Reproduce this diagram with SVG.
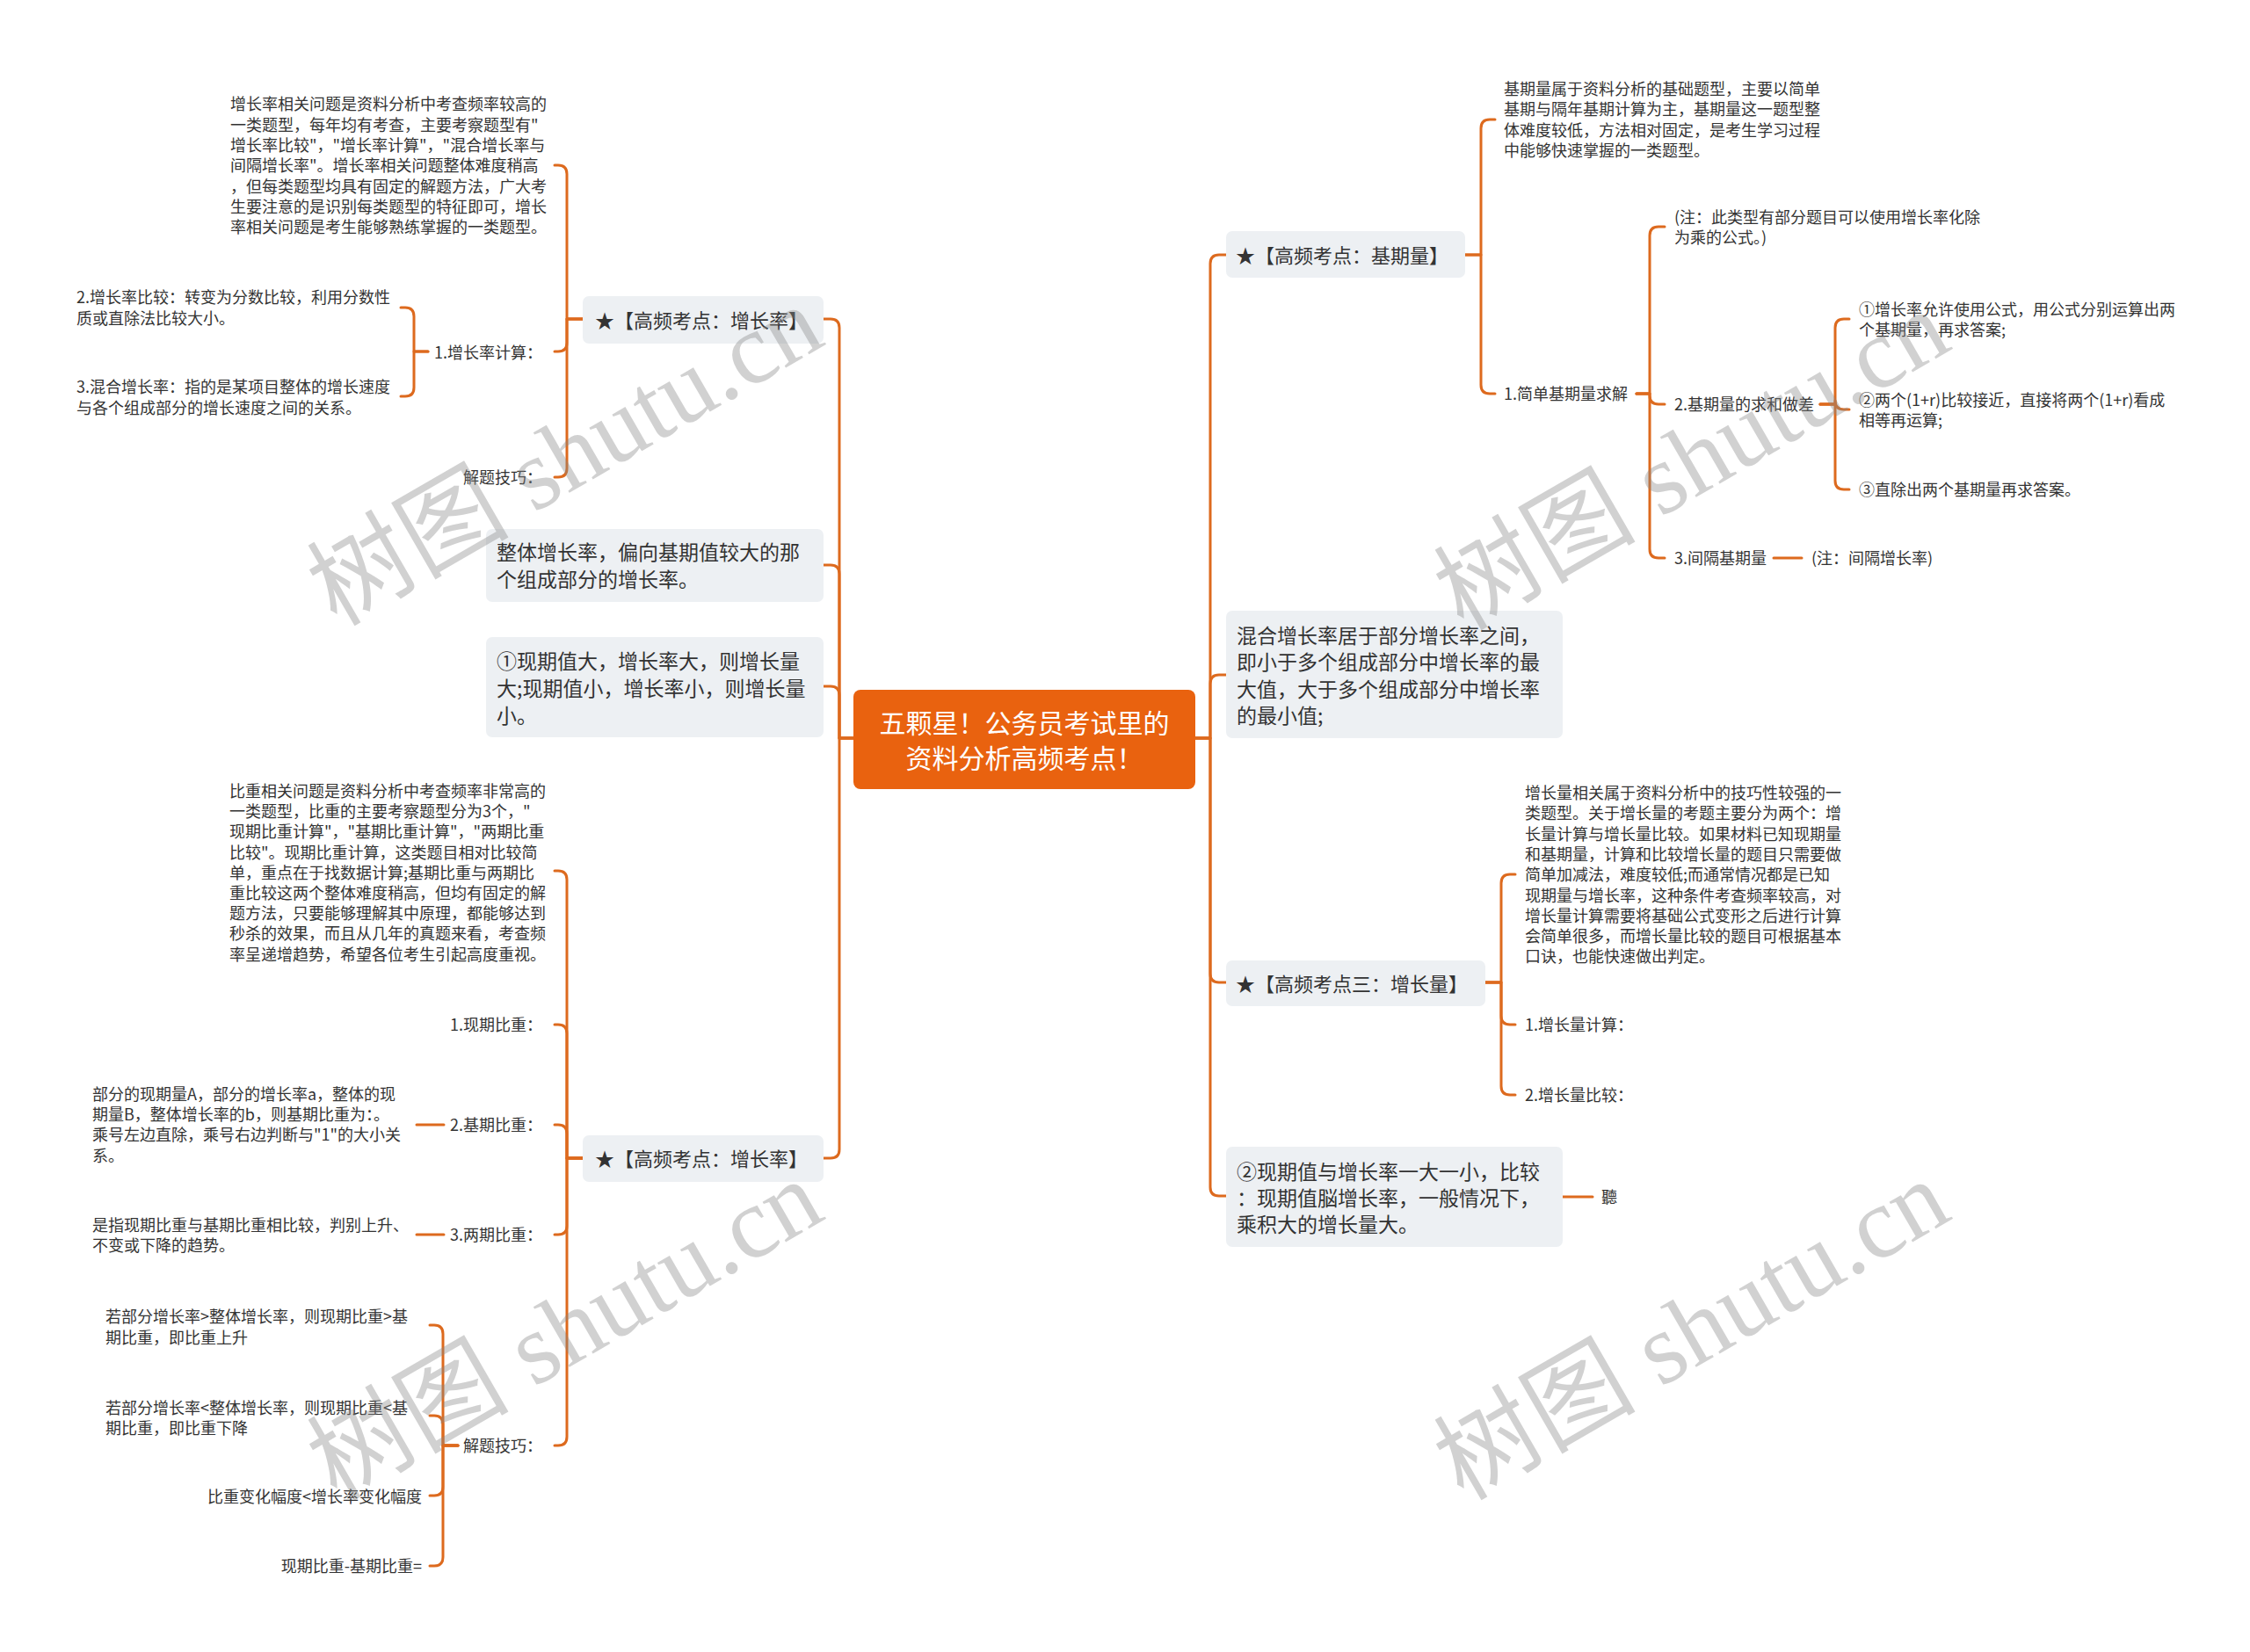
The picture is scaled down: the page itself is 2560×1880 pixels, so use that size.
<svg xmlns="http://www.w3.org/2000/svg" width="2560" height="1880" viewBox="0 0 2560 1880">
<style>
.c{fill:none;stroke:#DD6A1E;stroke-width:3;stroke-linecap:round;stroke-linejoin:round}
text{font-family:"Noto Sans CJK SC","Noto Sans",sans-serif;fill:#333;dominant-baseline:central}
.s{font-size:18px}
.m{font-size:23px}
.t{font-size:22px}
.box{fill:#EDF0F3}
.root{fill:#E9620F}
.rt{font-size:30px;fill:#fff;text-anchor:middle}
.e{text-anchor:end}
.wm{font-family:"Liberation Serif","Noto Sans CJK SC",serif;font-size:115px;fill:#888;opacity:0.38;text-anchor:middle}
</style>
<rect width="2560" height="1880" fill="#fff"/>
<g id="connectors">
<path class="c" d="M971,840 H955 V373 Q955,363 945,363 H937"/>
<path class="c" d="M971,840 H955 V653 Q955,643 945,643 H937"/>
<path class="c" d="M971,840 H955 V791 Q955,781 945,781 H937"/>
<path class="c" d="M971,840 H955 V1308 Q955,1318 945,1318 H937"/>
<path class="c" d="M1360,840 H1377 V300 Q1377,290 1387,290 H1395"/>
<path class="c" d="M1360,840 H1377 V778 Q1377,768 1387,768 H1395"/>
<path class="c" d="M1360,840 H1377 V1108 Q1377,1118 1387,1118 H1395"/>
<path class="c" d="M1360,840 H1377 V1351 Q1377,1361 1387,1361 H1395"/>
<path class="c" d="M663,363 H645 V198 Q645,188 635,188 H631"/>
<path class="c" d="M663,363 H645 V390 Q645,400 635,400 H631"/>
<path class="c" d="M663,363 H645 V533 Q645,543 635,543 H631"/>
<path class="c" d="M487,400 H471 V360 Q471,350 461,350 H456"/>
<path class="c" d="M487,400 H471 V441 Q471,451 461,451 H456"/>
<path class="c" d="M663,1318 H645 V1001 Q645,991 635,991 H631"/>
<path class="c" d="M663,1318 H645 V1176 Q645,1166 635,1166 H631"/>
<path class="c" d="M663,1318 H645 V1290 Q645,1280 635,1280 H631"/>
<path class="c" d="M663,1318 H645 V1395 Q645,1405 635,1405 H631"/>
<path class="c" d="M663,1318 H645 V1635 Q645,1645 635,1645 H631"/>
<path class="c" d="M505,1280 H474"/>
<path class="c" d="M505,1405 H474"/>
<path class="c" d="M521,1645 H504 V1518 Q504,1508 494,1508 H489"/>
<path class="c" d="M521,1645 H504 V1621 Q504,1611 494,1611 H489"/>
<path class="c" d="M521,1645 H504 V1692 Q504,1702 494,1702 H489"/>
<path class="c" d="M521,1645 H504 V1772 Q504,1782 494,1782 H489"/>
<path class="c" d="M1667,290 H1685 V146 Q1685,136 1695,136 H1701"/>
<path class="c" d="M1667,290 H1685 V438 Q1685,448 1695,448 H1701"/>
<path class="c" d="M1862,448 H1877 V268 Q1877,258 1887,258 H1894"/>
<path class="c" d="M1862,448 H1877 V450 Q1877,460 1887,460 H1894"/>
<path class="c" d="M1862,448 H1877 V625 Q1877,635 1887,635 H1894"/>
<path class="c" d="M2018,635 H2050"/>
<path class="c" d="M2071,460 H2088 V373 Q2088,363 2098,363 H2104"/>
<path class="c" d="M2071,460 H2088 V456 Q2088,466 2098,466 H2104"/>
<path class="c" d="M2071,460 H2088 V547 Q2088,557 2098,557 H2104"/>
<path class="c" d="M1690,1118 H1708 V1005 Q1708,995 1718,995 H1724"/>
<path class="c" d="M1690,1118 H1708 V1156 Q1708,1166 1718,1166 H1724"/>
<path class="c" d="M1690,1118 H1708 V1236 Q1708,1246 1718,1246 H1724"/>
<path class="c" d="M1778,1362 H1812"/>
</g>
<g id="root">
<rect class="root" x="971" y="785" width="389" height="113" rx="8"/>
<text class="rt" x="1165.5" y="821">五颗星！公务员考试里的</text>
<text class="rt" x="1165.5" y="861">资料分析高频考点！</text>
</g>
<g id="n-zzl1">
<rect class="box" x="663" y="337" width="274" height="54" rx="7"/>
<text class="t" x="677" y="363">★【高频考点：增长率】</text>
</g>
<g id="n-zzl1-desc">
<text class="s" x="262"><tspan x="262" y="117.3">增长率相关问题是资料分析中考查频率较高的</tspan><tspan x="262" y="140.6">一类题型，每年均有考查，主要考察题型有"</tspan><tspan x="262" y="163.9">增长率比较"，"增长率计算"，"混合增长率与</tspan><tspan x="262" y="187.2">间隔增长率"。增长率相关问题整体难度稍高</tspan><tspan x="262" y="210.5">，但每类题型均具有固定的解题方法，广大考</tspan><tspan x="262" y="233.8">生要注意的是识别每类题型的特征即可，增长</tspan><tspan x="262" y="257.1">率相关问题是考生能够熟练掌握的一类题型。</tspan></text>
</g>
<g id="n-zzl1-calc"><text class="s e" x="617" y="400">1.增长率计算：</text></g>
<g id="n-zzl1-cmp"><text class="s" x="87"><tspan x="87" y="337">2.增长率比较：转变为分数比较，利用分数性</tspan><tspan x="87" y="360.5">质或直除法比较大小。</tspan></text></g>
<g id="n-zzl1-mix"><text class="s" x="87"><tspan x="87" y="439">3.混合增长率：指的是某项目整体的增长速度</tspan><tspan x="87" y="462.5">与各个组成部分的增长速度之间的关系。</tspan></text></g>
<g id="n-zzl1-tip"><text class="s e" x="617" y="542">解题技巧：</text></g>
<g id="n-whole">
<rect class="box" x="553" y="602" width="384" height="83" rx="7"/>
<text class="m" x="565"><tspan x="565" y="627">整体增长率，偏向基期值较大的那</tspan><tspan x="565" y="657.5">个组成部分的增长率。</tspan></text>
</g>
<g id="n-cur1">
<rect class="box" x="553" y="725" width="384" height="114" rx="7"/>
<text class="m" x="565"><tspan x="565" y="750.5">①现期值大，增长率大，则增长量</tspan><tspan x="565" y="781.5">大;现期值小，增长率小，则增长量</tspan><tspan x="565" y="812.5">小。</tspan></text>
</g>
<g id="n-zzl2">
<rect class="box" x="663" y="1292" width="274" height="53" rx="7"/>
<text class="t" x="677" y="1317">★【高频考点：增长率】</text>
</g>
<g id="n-zzl2-desc">
<text class="s" x="261"><tspan x="261" y="899">比重相关问题是资料分析中考查频率非常高的</tspan><tspan x="261" y="922.2">一类题型，比重的主要考察题型分为3个，"</tspan><tspan x="261" y="945.4">现期比重计算"，"基期比重计算"，"两期比重</tspan><tspan x="261" y="968.6">比较"。现期比重计算，这类题目相对比较简</tspan><tspan x="261" y="991.8">单，重点在于找数据计算;基期比重与两期比</tspan><tspan x="261" y="1015">重比较这两个整体难度稍高，但均有固定的解</tspan><tspan x="261" y="1038.2">题方法，只要能够理解其中原理，都能够达到</tspan><tspan x="261" y="1061.4">秒杀的效果，而且从几年的真题来看，考查频</tspan><tspan x="261" y="1084.6">率呈递增趋势，希望各位考生引起高度重视。</tspan></text>
</g>
<g id="n-cur-share"><text class="s e" x="617" y="1165">1.现期比重：</text></g>
<g id="n-base-share"><text class="s e" x="617" y="1279">2.基期比重：</text></g>
<g id="n-base-share-desc"><text class="s" x="105"><tspan x="105" y="1244">部分的现期量A，部分的增长率a，整体的现</tspan><tspan x="105" y="1267.2">期量B，整体增长率的b，则基期比重为：。</tspan><tspan x="105" y="1290.4">乘号左边直除，乘号右边判断与"1"的大小关</tspan><tspan x="105" y="1313.6">系。</tspan></text></g>
<g id="n-two-share"><text class="s e" x="617" y="1404">3.两期比重：</text></g>
<g id="n-two-share-desc"><text class="s" x="105"><tspan x="105" y="1393">是指现期比重与基期比重相比较，判别上升、</tspan><tspan x="105" y="1416.2">不变或下降的趋势。</tspan></text></g>
<g id="n-zzl2-tip"><text class="s e" x="617" y="1644">解题技巧：</text></g>
<g id="n-tip1"><text class="s" x="120"><tspan x="120" y="1497">若部分增长率&gt;整体增长率，则现期比重&gt;基</tspan><tspan x="120" y="1520.5">期比重，即比重上升</tspan></text></g>
<g id="n-tip2"><text class="s" x="120"><tspan x="120" y="1600.5">若部分增长率&lt;整体增长率，则现期比重&lt;基</tspan><tspan x="120" y="1624">期比重，即比重下降</tspan></text></g>
<g id="n-tip3"><text class="s e" x="480" y="1702">比重变化幅度&lt;增长率变化幅度</text></g>
<g id="n-tip4"><text class="s e" x="480" y="1781">现期比重-基期比重=</text></g>
<g id="n-jql">
<rect class="box" x="1395" y="263" width="272" height="53" rx="7"/>
<text class="t" x="1406" y="289">★【高频考点：基期量】</text>
</g>
<g id="n-jql-desc"><text class="s" x="1711"><tspan x="1711" y="100">基期量属于资料分析的基础题型，主要以简单</tspan><tspan x="1711" y="123.3">基期与隔年基期计算为主，基期量这一题型整</tspan><tspan x="1711" y="146.6">体难度较低，方法相对固定，是考生学习过程</tspan><tspan x="1711" y="169.9">中能够快速掌握的一类题型。</tspan></text></g>
<g id="n-simple"><text class="s" x="1711" y="447">1.简单基期量求解</text></g>
<g id="n-note1"><text class="s" x="1905"><tspan x="1905" y="246">(注：此类型有部分题目可以使用增长率化除</tspan><tspan x="1905" y="269">为乘的公式。)</tspan></text></g>
<g id="n-sumdiff"><text class="s" x="1905" y="459">2.基期量的求和做差</text></g>
<g id="n-sd1"><text class="s" x="2115"><tspan x="2115" y="351">①增长率允许使用公式，用公式分别运算出两</tspan><tspan x="2115" y="374">个基期量，再求答案;</tspan></text></g>
<g id="n-sd2"><text class="s" x="2115"><tspan x="2115" y="454">②两个(1+r)比较接近，直接将两个(1+r)看成</tspan><tspan x="2115" y="477">相等再运算;</tspan></text></g>
<g id="n-sd3"><text class="s" x="2115" y="556">③直除出两个基期量再求答案。</text></g>
<g id="n-interval"><text class="s" x="1905" y="634">3.间隔基期量</text></g>
<g id="n-interval-note"><text class="s" x="2061" y="634">(注：间隔增长率)</text></g>
<g id="n-mix">
<rect class="box" x="1395" y="695" width="383" height="145" rx="7"/>
<text class="m" x="1407"><tspan x="1407" y="721.5">混合增长率居于部分增长率之间，</tspan><tspan x="1407" y="752">即小于多个组成部分中增长率的最</tspan><tspan x="1407" y="782.5">大值，大于多个组成部分中增长率</tspan><tspan x="1407" y="813">的最小值;</tspan></text>
</g>
<g id="n-zzlq">
<rect class="box" x="1395" y="1093" width="295" height="52" rx="7"/>
<text class="t" x="1406" y="1118">★【高频考点三：增长量】</text>
</g>
<g id="n-zzlq-desc"><text class="s" x="1735"><tspan x="1735" y="901">增长量相关属于资料分析中的技巧性较强的一</tspan><tspan x="1735" y="924.3">类题型。关于增长量的考题主要分为两个：增</tspan><tspan x="1735" y="947.6">长量计算与增长量比较。如果材料已知现期量</tspan><tspan x="1735" y="970.9">和基期量，计算和比较增长量的题目只需要做</tspan><tspan x="1735" y="994.2">简单加减法，难度较低;而通常情况都是已知</tspan><tspan x="1735" y="1017.5">现期量与增长率，这种条件考查频率较高，对</tspan><tspan x="1735" y="1040.8">增长量计算需要将基础公式变形之后进行计算</tspan><tspan x="1735" y="1064.1">会简单很多，而增长量比较的题目可根据基本</tspan><tspan x="1735" y="1087.4">口诀，也能快速做出判定。</tspan></text></g>
<g id="n-zzlq-calc"><text class="s" x="1735" y="1165">1.增长量计算：</text></g>
<g id="n-zzlq-cmp"><text class="s" x="1735" y="1245">2.增长量比较：</text></g>
<g id="n-cur2">
<rect class="box" x="1395" y="1305" width="383" height="114" rx="7"/>
<text class="m" x="1407"><tspan x="1407" y="1331.5">②现期值与增长率一大一小，比较</tspan><tspan x="1407" y="1361.5">：现期值脳增长率，一般情况下，</tspan><tspan x="1407" y="1391.5">乘积大的增长量大。</tspan></text>
</g>
<g id="n-ting"><text class="s" x="1822" y="1361">聽</text></g>
<g id="watermarks">
<text class="wm" transform="translate(643,519) rotate(-30)">树图 shutu.cn</text>
<text class="wm" transform="translate(1925,524) rotate(-30)">树图 shutu.cn</text>
<text class="wm" transform="translate(643,1514) rotate(-30)">树图 shutu.cn</text>
<text class="wm" transform="translate(1925,1514) rotate(-30)">树图 shutu.cn</text>
</g>
</svg>
